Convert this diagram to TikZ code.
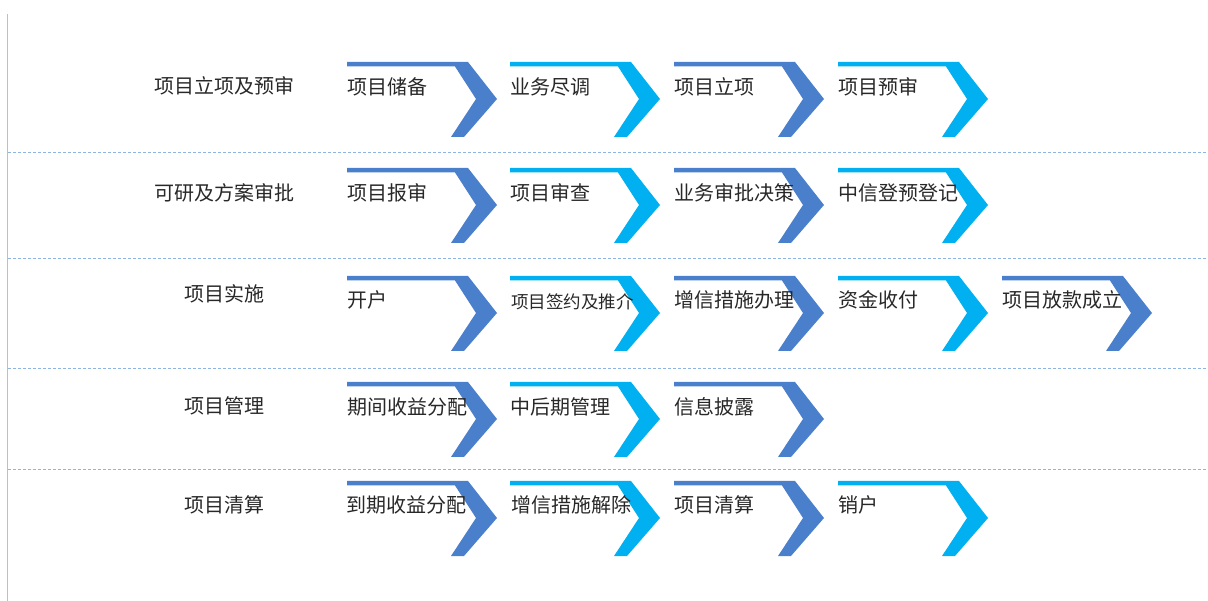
\documentclass[tikz,border=0pt]{standalone}
\usepackage{fontspec}
\newfontfamily\cjk{Noto Sans CJK SC}
\definecolor{bleufonce}{RGB}{74,127,204}
\definecolor{bleuclair}{RGB}{0,176,240}
\definecolor{pointille}{RGB}{143,180,227}
\definecolor{texte}{RGB}{40,40,40}

\begin{document}
\begin{tikzpicture}[x=1pt,y=-1pt,
    chevron/.pic={\path[pic actions] (0,0) -- (121,0) -- (150,37) -- (117,75) -- (104,75) -- (129,37) -- (108,4.5) -- (0,4.5) -- cycle;},
    etape/.style={anchor=west, inner sep=0pt, text=texte, font=\cjk\fontsize{20}{22}\selectfont},
    phase/.style={inner sep=0pt, text=texte, font=\cjk\fontsize{20}{22}\selectfont},
    separation/.style={pointille, dash pattern=on 3pt off 2pt, line width=0.8pt}]
        \useasboundingbox (0,0) rectangle (1208,601);
        \draw[black!25, line width=1pt] (7.5,14) -- (7.5,601);
        \draw[separation] (8,152) -- (1208,152);
        \draw[separation] (8,258) -- (1208,258);
        \draw[separation] (8,368) -- (1208,368);
        \draw[separation] (8,469) -- (1208,469);
        % phases
        \node[phase] (phase1) at (224,86) {项目立项及预审};
        \node[phase] (phase2) at (224,193) {可研及方案审批};
        \node[phase] (phase3) at (224,294) {项目实施};
        \node[phase] (phase4) at (224,406) {项目管理};
        \node[phase] (phase5) at (224,505) {项目清算};
        % ligne 1
        \pic[fill=bleufonce] at (347,62) {chevron};
        \pic[fill=bleuclair] at (510,62) {chevron};
        \pic[fill=bleufonce] at (674,62) {chevron};
        \pic[fill=bleuclair] at (838,62) {chevron};
        \node[etape] (reserve) at (347,87) {项目储备};
        \node[etape] (diligence) at (510,87) {业务尽调};
        \node[etape] (creation) at (674,87) {项目立项};
        \node[etape] (preexamen) at (838,87) {项目预审};
        % ligne 2
        \pic[fill=bleufonce] at (347,168) {chevron};
        \pic[fill=bleuclair] at (510,168) {chevron};
        \pic[fill=bleufonce] at (674,168) {chevron};
        \pic[fill=bleuclair] at (838,168) {chevron};
        \node[etape] (rapport) at (347,193) {项目报审};
        \node[etape] (examen) at (510,193) {项目审查};
        \node[etape] (decision) at (674,193) {业务审批决策};
        \node[etape] (enregistrement) at (838,193) {中信登预登记};
        % ligne 3
        \pic[fill=bleufonce] at (347,276) {chevron};
        \pic[fill=bleuclair] at (510,276) {chevron};
        \pic[fill=bleufonce] at (674,276) {chevron};
        \pic[fill=bleuclair] at (838,276) {chevron};
        \pic[fill=bleufonce] at (1002,276) {chevron};
        \node[etape] (ouverture) at (347,300) {开户};
        \node[etape, font=\cjk\fontsize{17.5}{20}\selectfont] (signature) at (511,302) {项目签约及推介};
        \node[etape] (garantie) at (674,300) {增信措施办理};
        \node[etape] (paiement) at (838,300) {资金收付};
        \node[etape] (pret) at (1002,300) {项目放款成立};
        % ligne 4
        \pic[fill=bleufonce] at (347,382) {chevron};
        \pic[fill=bleuclair] at (510,382) {chevron};
        \pic[fill=bleufonce] at (674,382) {chevron};
        \node[etape] (repartition) at (347,407) {期间收益分配};
        \node[etape] (gestion) at (510,407) {中后期管理};
        \node[etape] (information) at (674,407) {信息披露};
        % ligne 5
        \pic[fill=bleufonce] at (347,481) {chevron};
        \pic[fill=bleuclair] at (510,481) {chevron};
        \pic[fill=bleufonce] at (674,481) {chevron};
        \pic[fill=bleuclair] at (838,481) {chevron};
        \node[etape] (echeance) at (346,505) {到期收益分配};
        \node[etape] (levee) at (511,505) {增信措施解除};
        \node[etape] (liquidation) at (674,505) {项目清算};
        \node[etape] (cloture) at (838,505) {销户};
\end{tikzpicture}
\end{document}
